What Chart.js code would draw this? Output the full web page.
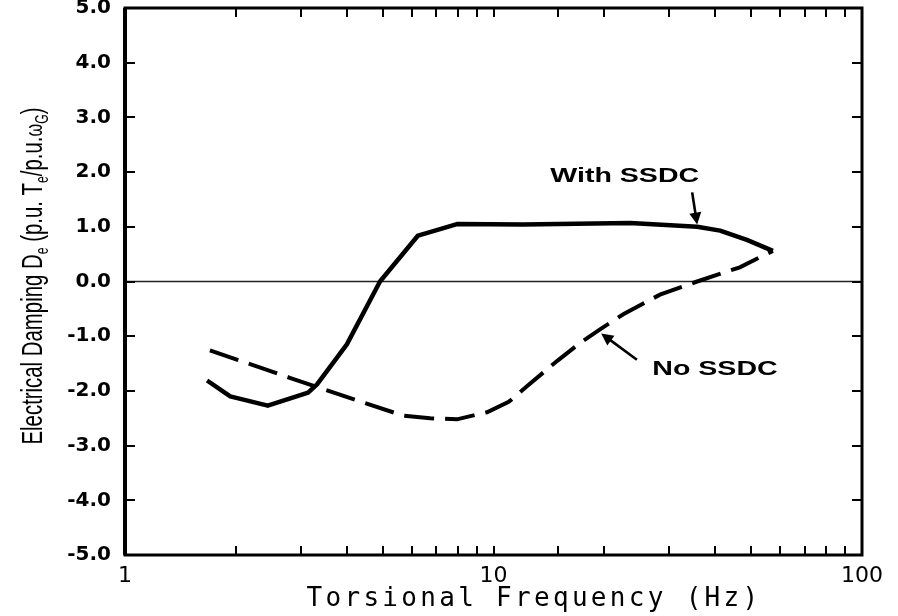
<!DOCTYPE html>
<html>
<head>
<meta charset="utf-8">
<script src="https://cdn.jsdelivr.net/npm/chart.js@4/dist/chart.umd.min.js"></script>
<style>
body{margin:0;background:#fff;}
</style>
</head>
<body>
<canvas id="chart" width="898" height="616"></canvas>
<script>
// damping curve with the SSDC in service
const withFreq = [1.67, 1.93, 2.44, 3.14, 3.32, 4.0, 4.92, 6.24, 7.96, 12.0, 23.5, 35.7, 41.2, 48.7, 57.3];
const withDamp = [-1.81, -2.10, -2.27, -2.03, -1.88, -1.15, 0.0, 0.84, 1.05, 1.04, 1.07, 1.0, 0.93, 0.76, 0.56];

// damping curve without the SSDC
const noFreq = [1.70, 2.80, 4.42, 5.68, 6.73, 7.96, 9.6, 11.0, 12.3, 14.9, 17.2, 19.5, 22.5, 28.3, 35.7, 46.6, 57.3];
const noDamp = [-1.26, -1.76, -2.21, -2.45, -2.50, -2.52, -2.39, -2.20, -1.92, -1.45, -1.12, -0.87, -0.60, -0.24, 0.0, 0.26, 0.56];

const xLabels = [1, 10, 100];
const yMin = -5, yMax = 5;

// callouts: label centre, arrow tail and arrow tip in (Hz, damping)
const notes = [
  {text: "With SSDC", at: [22.7, 1.93], tail: [34.6, 1.63], tip: [35.7, 1.04]},
  {text: "No SSDC", at: [39.9, -1.60], tail: [24.5, -1.43], tip: [19.6, -0.95]}
];

function pts(xs, ys){
  return xs.map((x, i) => ({x: x, y: ys[i]}));
}

Chart.defaults.color = "#000";

const framePlugin = {
  id: "frame",
  beforeDatasetsDraw(chart){
    const {ctx, chartArea: a, scales: {y}} = chart;
    const y0 = y.getPixelForValue(0);
    ctx.save();
    ctx.strokeStyle = "#222";
    ctx.lineWidth = 1.6;
    ctx.beginPath();
    ctx.moveTo(a.left, y0);
    ctx.lineTo(a.right, y0);
    ctx.stroke();
    ctx.restore();
  },
  afterDatasetsDraw(chart){
    const {ctx, chartArea: a, scales: {x, y}} = chart;
    ctx.save();
    ctx.strokeStyle = "#000";

    // inward ticks on all four sides
    ctx.lineWidth = 2;
    ctx.beginPath();
    x.ticks.forEach(t => {
      if (t.value <= 1 || t.value >= 100) return;
      const px = Math.round(x.getPixelForValue(t.value));
      ctx.moveTo(px, a.bottom); ctx.lineTo(px, a.bottom - 9);
      ctx.moveTo(px, a.top); ctx.lineTo(px, a.top + 9);
    });
    y.ticks.forEach(t => {
      if (t.value <= yMin || t.value >= yMax) return;
      const py = Math.round(y.getPixelForValue(t.value));
      ctx.moveTo(a.left, py); ctx.lineTo(a.left + 10, py);
      ctx.moveTo(a.right, py); ctx.lineTo(a.right - 10, py);
    });
    ctx.stroke();

    // box
    ctx.lineWidth = 3;
    ctx.strokeRect(a.left, a.top, a.right - a.left, a.bottom - a.top);
    ctx.lineWidth = 4;
    ctx.beginPath();
    ctx.moveTo(a.left, a.top); ctx.lineTo(a.left, a.bottom);
    ctx.stroke();

    // callouts
    notes.forEach(n => {
      const tx = x.getPixelForValue(n.at[0]), ty = y.getPixelForValue(n.at[1]);
      ctx.save();
      ctx.translate(tx, ty);
      ctx.scale(1.36, 1);
      ctx.font = 'bold 21px "Liberation Sans", Arial, sans-serif';
      ctx.textAlign = "center";
      ctx.textBaseline = "middle";
      ctx.fillStyle = "#000";
      ctx.fillText(n.text, 0, 0);
      ctx.restore();

      const x1 = x.getPixelForValue(n.tail[0]), y1 = y.getPixelForValue(n.tail[1]);
      const x2 = x.getPixelForValue(n.tip[0]), y2 = y.getPixelForValue(n.tip[1]);
      const ang = Math.atan2(y2 - y1, x2 - x1);
      const head = 12, half = 6;
      ctx.lineWidth = 2.6;
      ctx.beginPath();
      ctx.moveTo(x1, y1);
      ctx.lineTo(x2 - Math.cos(ang) * head * 0.8, y2 - Math.sin(ang) * head * 0.8);
      ctx.stroke();
      ctx.beginPath();
      ctx.moveTo(x2, y2);
      ctx.lineTo(x2 - Math.cos(ang) * head - Math.sin(ang) * half, y2 - Math.sin(ang) * head + Math.cos(ang) * half);
      ctx.lineTo(x2 - Math.cos(ang) * head + Math.sin(ang) * half, y2 - Math.sin(ang) * head - Math.cos(ang) * half);
      ctx.closePath();
      ctx.fillStyle = "#000";
      ctx.fill();
    });

    // x axis title, typewriter style
    ctx.font = '26px "DejaVu Sans Mono", monospace';
    ctx.letterSpacing = "3.3px";
    ctx.textAlign = "center";
    ctx.textBaseline = "alphabetic";
    ctx.fillStyle = "#000";
    ctx.fillText("Torsional Frequency (Hz)", 534, 606);
    ctx.letterSpacing = "0px";

    // y axis title with subscripts, condensed
    const big = '30px "Liberation Sans", Arial, sans-serif';
    const sub = '18px "Liberation Sans", Arial, sans-serif';
    const mid = '24px "Liberation Sans", Arial, sans-serif';
    const parts = [
      ["Electrical Damping D", big, 0],
      ["e", sub, 6],
      [" (p.u. T", big, 0],
      ["e", sub, 6],
      ["/p.u.", big, 0],
      ["\u03c9", mid, 0],
      ["G", sub, 6],
      [")", big, 0]
    ];
    let total = 0;
    parts.forEach(p => { ctx.font = p[1]; p.push(ctx.measureText(p[0]).width); total += p[3]; });
    ctx.save();
    ctx.translate(42, 276);
    ctx.rotate(-Math.PI / 2);
    ctx.scale(337 / total, 1);
    ctx.textAlign = "left";
    let cx = -total / 2;
    parts.forEach(p => {
      ctx.font = p[1];
      ctx.fillText(p[0], cx, p[2]);
      cx += p[3];
    });
    ctx.restore();

    ctx.restore();
  }
};

new Chart(document.getElementById("chart"), {
  type: "scatter",
  data: {
    datasets: [
      {
        label: "With SSDC",
        data: pts(withFreq, withDamp),
        showLine: true,
        borderColor: "#000",
        borderWidth: 4.5,
        pointRadius: 0,
        tension: 0,
        borderJoinStyle: "round"
      },
      {
        label: "No SSDC",
        data: pts(noFreq, noDamp),
        showLine: true,
        borderColor: "#000",
        borderWidth: 4,
        borderDash: [30, 11],
        pointRadius: 0,
        tension: 0
      }
    ]
  },
  options: {
    responsive: false,
    animation: false,
    devicePixelRatio: 1,
    layout: {padding: {top: 8, right: 36, left: 0, bottom: 0}},
    plugins: {legend: {display: false}, tooltip: {enabled: false}},
    scales: {
      x: {
        type: "logarithmic",
        min: 1,
        max: 100,
        grid: {display: false, drawTicks: false},
        border: {display: false},
        ticks: {
          autoSkip: false,
          maxRotation: 0,
          padding: 8,
          font: {family: "DejaVu Sans", size: 22},
          callback: v => xLabels.includes(v) ? String(v) : ""
        },
        afterFit: s => { s.height = 61; s.paddingLeft = 0; s.paddingRight = 0; }
      },
      y: {
        min: yMin,
        max: yMax,
        grid: {display: false, drawTicks: false},
        border: {display: false},
        ticks: {
          stepSize: 1,
          padding: 14,
          font: {family: "DejaVu Sans", size: 20, weight: "bold"},
          callback: v => v.toFixed(1)
        },
        afterFit: s => { s.width = 125; s.paddingTop = 0; s.paddingBottom = 0; }
      }
    }
  },
  plugins: [framePlugin]
});
</script>
</body>
</html>
